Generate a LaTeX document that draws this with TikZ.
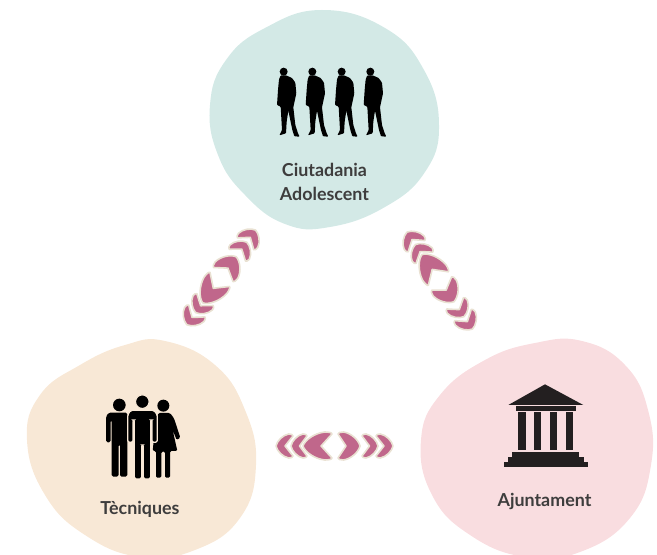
\documentclass[tikz,border=0pt]{standalone}
\usepackage{fontspec}
\setmainfont{Lato}[BoldFont={Lato Bold}]
\definecolor{blobA}{HTML}{D3E9E6}
\definecolor{blobB}{HTML}{F8E8D6}
\definecolor{blobC}{HTML}{F9DDE0}
\definecolor{mauve}{HTML}{C0678B}
\definecolor{rim}{HTML}{E9E1D2}
\definecolor{ink}{HTML}{3E3D3D}
\definecolor{bank}{HTML}{231F20}
\tikzset{
 chevron/.style={fill=mauve,draw=rim,line width=1.2pt,line join=round},
 lab/.style={font=\bfseries\fontsize{13.4pt}{18pt}\selectfont,text=ink,align=center,inner sep=0pt},
 iconsmall/.style={x=0.25pt,y=-0.25pt}
}
\newcommand{\chev}[4]{% end x, tip x, notch x, half height
 \path[chevron] (#1,{-#4+2})
  .. controls (#1,{-#4+0.6}) and ({#1+0.12*(#2-#1)},-#4) .. ({#1+0.25*(#2-#1)},-#4)
  .. controls ({#1+0.6*(#2-#1)},{-0.92*#4}) and ({#2-0.06*(#2-#1)},{-0.42*#4}) .. (#2,0)
  .. controls ({#2-0.06*(#2-#1)},{0.42*#4}) and ({#1+0.6*(#2-#1)},{0.92*#4}) .. ({#1+0.25*(#2-#1)},#4)
  .. controls ({#1+0.12*(#2-#1)},#4) and (#1,{#4-0.6}) .. (#1,{#4-2})
  .. controls ({#1+0.4*(#3-#1)},{0.52*#4}) and ({#3-0.2*(#3-#1)},{0.16*#4}) .. (#3,0)
  .. controls ({#3-0.2*(#3-#1)},{-0.16*#4}) and ({#1+0.4*(#3-#1)},{-0.52*#4}) .. (#1,{-#4+2}) -- cycle;}
\newcommand{\arrowset}{%
 \chev{-42}{-59}{-50}{12}
 \chev{-28}{-44}{-35.5}{12}
 \chev{-3}{-32}{-14}{14}
 \chev{41}{58}{49}{12}
 \chev{27}{43}{34.5}{12}
 \chev{3}{25}{11}{14}}
\newcommand{\walker}{%
 \fill (71,65) circle (12);
 \fill[rounded corners=0.6pt] (62,76) -- (78,76) -- (96,84) -- (106,98) -- (109,130) -- (100,172)
  -- (106,225) -- (114,250) -- (119,260) -- (103,259) -- (97,240) -- (85,182) -- (80,215) -- (78,250)
  -- (58,256) -- (66,240) -- (62,170) -- (51,165) -- (54,120) -- (57,88) -- cycle;}
\begin{document}
\begin{tikzpicture}[x=0.75pt,y=-0.75pt]
\useasboundingbox (0,0) rectangle (657,555);
\fill[blobA] plot[smooth cycle,tension=0.75] coordinates {(322,10) (385,28) (424,70) (439,125) (425,172) (385,207) (330,227) (285,224) (245,195) (218,155) (210,105) (226,60) (265,28)};
\fill[blobB] plot[smooth cycle,tension=0.75] coordinates {(165,341) (215,365) (245,410) (256,465) (240,518) (195,550) (140,557) (85,535) (45,495) (27,440) (40,395) (80,365) (125,345)};
\fill[blobC] plot[smooth cycle,tension=0.75] coordinates {(582,341) (625,365) (648,410) (651,465) (630,518) (580,552) (525,557) (470,535) (432,495) (421,440) (440,395) (485,360) (535,343)};
\begin{scope}[shift={(221.5,277)},rotate=54]\arrowset\end{scope}
\begin{scope}[shift={(440,281)},rotate=-56]\arrowset\end{scope}
\begin{scope}[shift={(335,446)}]\arrowset\end{scope}
% four adolescents
\foreach \dx in {0,86,174,260}{
 \begin{scope}[shift={(260,50)},iconsmall,xshift=\dx*0.25pt,fill=black]\walker\end{scope}}
% technicians
\begin{scope}[shift={(90,385)},iconsmall]
 \fill (88,60) circle (19);
 \fill[rounded corners=1.2pt] (48,172) -- (48,95) -- (56,83) -- (112,83) -- (112,275) -- (90,275) -- (90,178) -- (86,178) -- (86,275) -- (65,275) -- (65,105) -- (62,105) -- (62,172) -- cycle;
 \fill (220,62) circle (18);
 \fill[rounded corners=1pt] (205,84) -- (240,84) -- (252,100) -- (271,158) -- (260,165) -- (248,135) -- (262,198) -- (240,198) -- (240,278) -- (225,278) -- (225,200) -- (214,200) -- (214,278) -- (198,278) -- (198,198) -- (188,198) -- (195,130) -- cycle;
 \fill[draw=blobB,line width=0.9pt] (157,50) circle (20.5);
 \fill[draw=blobB,line width=0.9pt,rounded corners=1.2pt] (113,172) -- (113,90) -- (122,76) -- (192,76) -- (202,90) -- (202,172) -- (186,172) -- (186,105) -- (182,105) -- (182,282) -- (160,282) -- (160,180) -- (155,180) -- (155,282) -- (133,282) -- (133,105) -- (129,105) -- (129,172) -- cycle;
\end{scope}
% town hall
\begin{scope}[shift={(490,375)},iconsmall,fill=bank]
 \fill (165,28) -- (280,90) -- (55,90) -- cycle;
 \fill (78,93) rectangle (258,107);
 \foreach \cx in {85,132,180,228}{\fill (\cx,112) rectangle ++(22,114);}
 \fill (67,231) rectangle (268,246);
 \fill (55,246) rectangle (282,260);
 \fill (42,260) rectangle (294,275);
\end{scope}
\node[lab] (ciutadania) at (324.5,182) {Ciutadania\\[-0.5pt]Adolescent};
\node[lab] (tecniques) at (140,509) {Tècniques};
\node[lab] (ajuntament) at (544.5,501) {Ajuntament};
\end{tikzpicture}
\end{document}
